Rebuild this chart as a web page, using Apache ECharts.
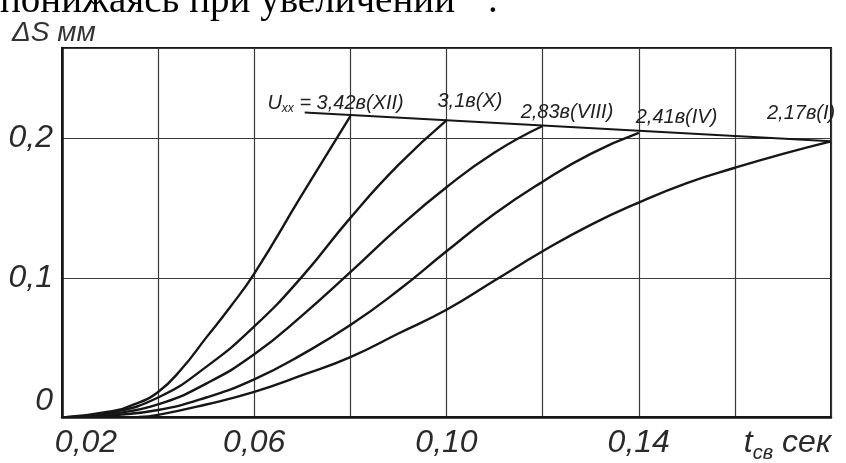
<!DOCTYPE html>
<html><head><meta charset="utf-8">
<script src="https://cdn.jsdelivr.net/npm/echarts@6/dist/echarts.min.js"></script>
<style>html,body{margin:0;padding:0;background:#fff}#c{width:846px;height:463px}</style>
</head><body><div id="c"></div>
<script>
// ---- data ----
const curveNames = ['3,42в(XII)', '3,1в(X)', '2,83в(VIII)', '2,41в(IV)', '2,17в(I)'];
const curveXII = [[0.021,0],[0.03,0.004],[0.035,0.009],[0.04,0.018],[0.045,0.035],[0.05,0.057],[0.055,0.079],[0.06,0.103],[0.07,0.16],[0.08,0.216]];
const curveX = [[0.022,0],[0.03,0.003],[0.04,0.014],[0.05,0.036],[0.06,0.065],[0.07,0.101],[0.08,0.143],[0.09,0.181],[0.10,0.213]];
const curveVIII = [[0.024,0],[0.03,0.002],[0.04,0.009],[0.05,0.024],[0.06,0.045],[0.07,0.073],[0.08,0.104],[0.09,0.136],[0.10,0.165],[0.11,0.19],[0.12,0.209]];
const curveIV = [[0.026,0],[0.03,0.001],[0.04,0.005],[0.05,0.014],[0.06,0.027],[0.07,0.045],[0.08,0.066],[0.09,0.091],[0.10,0.119],[0.11,0.146],[0.12,0.169],[0.13,0.189],[0.14,0.204]];
const curveI = [[0.036,0],[0.04,0.0015],[0.05,0.009],[0.06,0.018],[0.07,0.03],[0.08,0.043],[0.09,0.06],[0.10,0.077],[0.11,0.098],[0.12,0.119],[0.13,0.138],[0.14,0.154],[0.15,0.168],[0.16,0.179],[0.17,0.189],[0.18,0.198]];
const envelopeLine = [[0.0705,0.2187],[0.18,0.198]];
const xLabelValues = [0.02, 0.06, 0.10, 0.14];
const xLabelTexts = ['0,02', '0,06', '0,10', '0,14'];
const yLabelValues = [0, 0.1, 0.2];
const yLabelTexts = ['0', '0,1', '0,2'];
const xAxisTitle = ['t', 'св', ' сек'];
const yAxisTitle = 'ΔS мм';
const headText = 'понижаясь при увеличении';

// ---- styles ----
const curves = [curveXII, curveX, curveVIII, curveIV, curveI];
const labelOffsets = [[-83,-13],[-9,-19],[-22,-14],[-3,-16],[-64,-28]];
const INK = '#161616';
const FONT = '"Liberation Sans", sans-serif';

const chart = echarts.init(document.getElementById('c'), null, {renderer: 'canvas'});

function findIdx(arr, v) { return arr.findIndex(a => Math.abs(a - v) < 1e-6); }

const labelRich = {
  n: {fontFamily: FONT, fontStyle: 'italic', fontSize: 20, color: '#222', lineHeight: 22},
  u: {fontFamily: FONT, fontStyle: 'italic', fontSize: 20, color: '#222', lineHeight: 22},
  s: {fontFamily: FONT, fontStyle: 'italic', fontSize: 12, color: '#222', lineHeight: 10, verticalAlign: 'bottom'}
};

const series = curves.map((c, i) => ({
  type: 'line',
  name: curveNames[i],
  data: c,
  smooth: 0.5,
  showSymbol: false,
  symbol: 'none',
  lineStyle: {color: INK, width: 2.4},
  silent: true,
  animation: false,
  markPoint: {
    symbol: 'circle', symbolSize: 0, silent: true, animation: false,
    data: [{coord: c[c.length - 1]}],
    label: {
      show: true, position: 'inside', align: 'left', verticalAlign: 'middle',
      offset: labelOffsets[i],
      formatter: () => i === 0 ? '{u|U}{s|хх}{n| = ' + curveNames[i] + '}' : '{n|' + curveNames[i] + '}',
      rich: labelRich
    }
  }
}));
series.push({
  type: 'line', data: envelopeLine, showSymbol: false, symbol: 'none',
  lineStyle: {color: INK, width: 2}, silent: true, animation: false
});

chart.setOption({
  animation: false,
  backgroundColor: '#fff',
  grid: {left: 62, right: 15, top: 48, bottom: 46, show: true, borderColor: INK, borderWidth: 2, containLabel: false},
  xAxis: {
    type: 'value', min: 0.02, max: 0.18, interval: 0.02,
    axisLine: {show: true, onZero: false, lineStyle: {color: INK, width: 2.5}},
    axisTick: {show: false},
    splitLine: {show: true, lineStyle: {color: '#3a3a3a', width: 1.2}},
    axisLabel: {
      margin: 6,
      alignMaxLabel: 'right',
      formatter: function (v) {
        const k = findIdx(xLabelValues, v);
        if (k === 0) return '{f|' + xLabelTexts[k] + '}';
        if (k > 0) return '{d|' + xLabelTexts[k] + '}';
        if (Math.abs(v - 0.18) < 1e-6) return '{t|' + xAxisTitle[0] + '}{s|' + xAxisTitle[1] + '}{c|' + xAxisTitle[2] + '}';
        return '';
      },
      rich: {
        d: {fontFamily: FONT, fontStyle: 'italic', fontSize: 32, color: '#2a2a2a', lineHeight: 40},
        f: {fontFamily: FONT, fontStyle: 'italic', fontSize: 32, color: '#2a2a2a', lineHeight: 40, padding: [0, 0, 0, 48]},
        t: {fontFamily: FONT, fontStyle: 'italic', fontSize: 32, color: '#2a2a2a', lineHeight: 40},
        s: {fontFamily: FONT, fontStyle: 'italic', fontSize: 20, color: '#2a2a2a', lineHeight: 18, verticalAlign: 'bottom'},
        c: {fontFamily: FONT, fontStyle: 'italic', fontSize: 32, color: '#2a2a2a', lineHeight: 40}
      }
    }
  },
  yAxis: {
    type: 'value', min: 0, max: 0.265, interval: 0.1,
    axisLine: {show: true, onZero: false, lineStyle: {color: INK, width: 2.5}},
    axisTick: {show: false},
    splitLine: {show: true, lineStyle: {color: '#3a3a3a', width: 1.2}},
    axisLabel: {
      margin: 9,
      verticalAlignMinLabel: 'bottom',
      fontFamily: FONT, fontStyle: 'italic', fontSize: 32, color: '#2a2a2a',
      formatter: function (v) {
        const k = findIdx(yLabelValues, v);
        return k >= 0 ? yLabelTexts[k] : '';
      }
    }
  },
  graphic: [
    {type: 'text', x: 12, y: 33, silent: true,
     style: {text: yAxisTitle, font: 'italic 28px "Liberation Sans", sans-serif', fill: '#333', align: 'left', verticalAlign: 'middle'}},
    {type: 'text', x: 0, y: 2, silent: true,
     style: {text: headText, font: '39px "Liberation Serif", serif', fill: '#000', align: 'left', verticalAlign: 'middle'}},
    {type: 'text', x: 488, y: 2, silent: true,
     style: {text: '.', font: '39px "Liberation Serif", serif', fill: '#000', align: 'left', verticalAlign: 'middle'}}
  ],
  series: series
});
</script>
</body></html>
